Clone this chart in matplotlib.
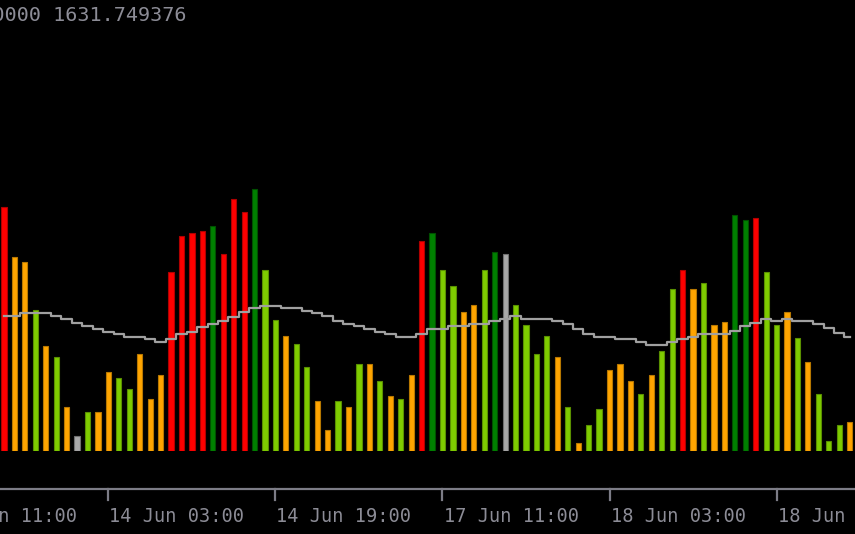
import matplotlib
matplotlib.use("Agg")
import matplotlib.pyplot as plt

# Volumen por barra (H1)
volumes = [3479, 2774, 2698, 2016, 1497, 1348, 633, 219, 558, 558,
           1125, 1048, 891, 1387, 744, 1087, 2550, 3070, 3107, 3142,
           3218, 2813, 3594, 3408, 3742, 2588, 1873, 1649, 1534, 1201,
           711, 300, 711, 633, 1240, 1240, 1005, 782, 744, 1087,
           2999, 3107, 2588, 2355, 1983, 2092, 2588, 2846, 2807, 2092,
           1798, 1387, 1649, 1348, 633, 110, 372, 596, 1163, 1240,
           1005, 819, 1087, 1426, 2317, 2588, 2317, 2392, 1798, 1835,
           3371, 3293, 3332, 2550, 1798, 1983, 1612, 1277, 819, 147,
           372, 410]

# tipo de barra: r=rojo, g=verde oscuro, l=verde claro, o=naranja, s=gris
kinds = "".join([
    "roololoslo",
    "ollooorrrr",
    "grrrglloll",
    "oololololo",
    "rglloolgsl",
    "lllololloo",
    "olollroloo",
    "ggrllololllo",
])

# media movil
ma = [1928, 1928, 1966, 1966, 1966, 1928, 1889, 1832, 1781, 1742,
      1704, 1666, 1632, 1632, 1595, 1557, 1595, 1666, 1704, 1775,
      1818, 1852, 1909, 1985, 2042, 2075, 2075, 2042, 2042, 2004,
      1966, 1928, 1852, 1818, 1781, 1742, 1704, 1666, 1632, 1632,
      1666, 1742, 1742, 1781, 1781, 1818, 1818, 1852, 1889, 1928,
      1889, 1889, 1889, 1852, 1818, 1742, 1666, 1632, 1632, 1595,
      1595, 1557, 1518, 1518, 1557, 1595, 1632, 1666, 1666, 1666,
      1709, 1781, 1832, 1889, 1852, 1889, 1852, 1852, 1818, 1761,
      1685, 1632]

tick_bars = [-6, 10, 26, 42, 58, 74]
tick_labels = ["13 Jun 11:00", "14 Jun 03:00", "14 Jun 19:00",
               "17 Jun 11:00", "18 Jun 03:00", "18 Jun 19:00"]

header = "0.000000 1631.749376"

fills = {"r": "#ff0000", "g": "#008000", "l": "#7fcc00", "o": "#ffa500", "s": "#a9a9a9"}
edges = {"r": "#b00000", "g": "#005000", "l": "#5a9000", "o": "#b87800", "s": "#707070"}

W, H = 855, 534
step = 10.44      # px por barra
x0 = 4            # centro de la primera barra
base = 451        # linea base de las barras (px desde arriba)
axis_y = 489

fig = plt.figure(figsize=(W / 100, H / 100), dpi=100, facecolor="black")

ax = fig.add_axes([0, (H - base) / H, 1, base / H])
ax.set_facecolor("black")
ax.set_xlim(-x0 / step, (W - x0) / step)
ax.set_ylim(0, base * 14.28)
ax.axis("off")

x = list(range(len(volumes)))
ax.bar(x, volumes, width=0.5,
       color=[fills[k] for k in kinds],
       edgecolor=[edges[k] for k in kinds], linewidth=0.8, zorder=2)
ax.plot(x, ma, drawstyle="steps-mid", color="#a0a0a0", linewidth=1.6, zorder=3)

# eje de tiempo
axb = fig.add_axes([0, 0, 1, (H - base) / H])
axb.set_facecolor("black")
axb.set_xlim(ax.get_xlim())
axb.set_ylim(0, H - base)
axb.axis("off")
ly = H - axis_y
axb.axhline(ly, color="#7c7c86", linewidth=1.6)
for b, lab in zip(tick_bars, tick_labels):
    axb.plot([b, b], [ly, ly - 11], color="#7c7c86", linewidth=1.6)
    axb.text(b + 0.1, 12, lab, ha="left", va="baseline", color="#8c8c96",
             family="DejaVu Sans Mono", fontsize=13.4, clip_on=False)

fig.text(186 / W, (H - 20.7) / H, header, ha="right", va="baseline",
         color="#8c8c96", family="DejaVu Sans Mono", fontsize=14.5)

fig.savefig("out.png", dpi=100, facecolor="black")
